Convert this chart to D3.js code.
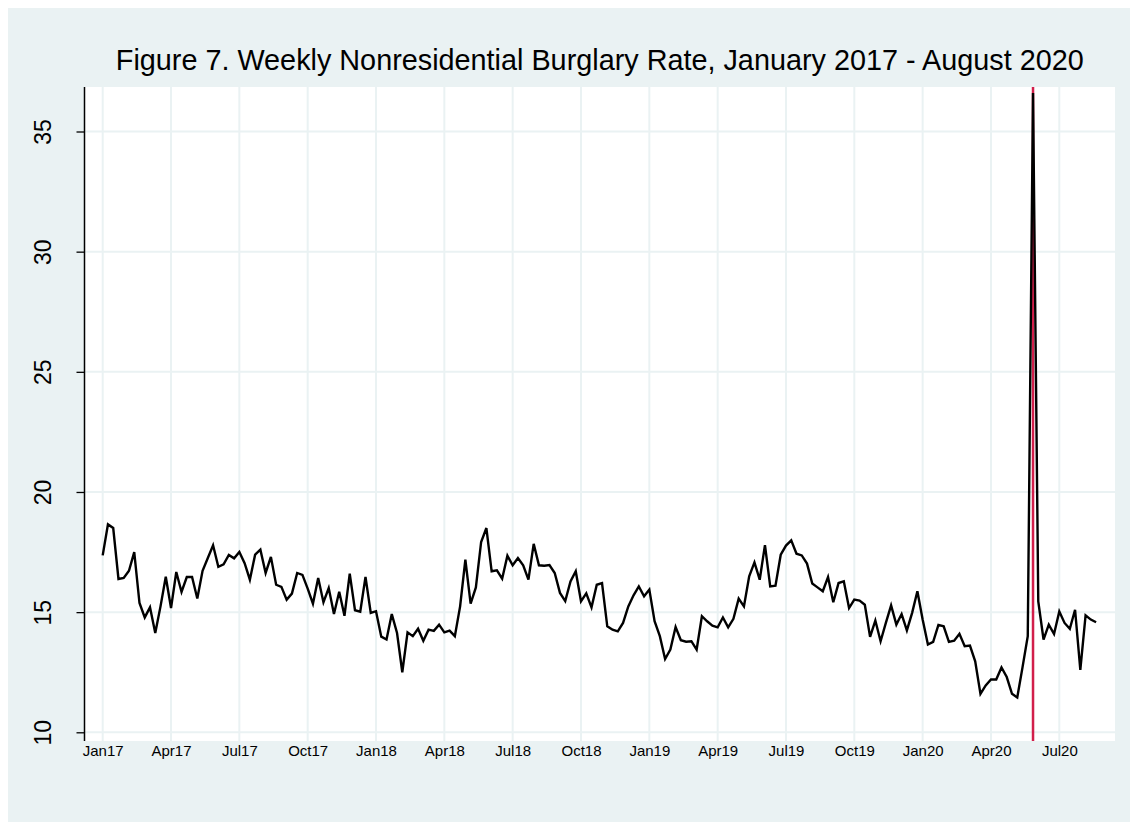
<!DOCTYPE html>
<html>
<head>
<meta charset="utf-8">
<script src="https://cdnjs.cloudflare.com/ajax/libs/d3/7.8.5/d3.min.js"></script>
<style>
  body { margin: 0; background: #ffffff; }
  text { font-family: Helvetica, Arial, "Liberation Sans", sans-serif; fill: #000; }
</style>
</head>
<body>
<div id="chart"></div>
<script>
var title = "Figure 7. Weekly Nonresidential Burglary Rate, January 2017 - August 2020";

// weekly rate, week 0 = 2017w1
var rate = [
  17.36, 18.65, 18.5, 16.38, 16.42, 16.72, 17.5, 15.38, 14.78, 15.2,
  14.13, 15.24, 16.47, 15.17, 16.67, 15.84, 16.46, 16.46, 15.57, 16.72,
  17.25, 17.78, 16.89, 16.99, 17.38, 17.24, 17.5, 17.04, 16.35, 17.39,
  17.6, 16.63, 17.3, 16.14, 16.05, 15.52, 15.77, 16.63, 16.55, 15.98,
  15.35, 16.42, 15.41, 16.0, 14.92, 15.85, 14.85, 16.6, 15.08, 15.02,
  16.47, 14.97, 15.04, 13.98, 13.86, 14.92, 14.13, 12.5, 14.16, 14.0,
  14.31, 13.81, 14.27, 14.22, 14.48, 14.16, 14.23, 14.0, 15.24, 17.18,
  15.35, 16.03, 17.92, 18.5, 16.7, 16.74, 16.39, 17.35, 16.95, 17.25,
  16.95, 16.35, 17.84, 16.95, 16.93, 16.96, 16.63, 15.8, 15.46, 16.28,
  16.7, 15.45, 15.78, 15.2, 16.14, 16.21, 14.41, 14.27, 14.2, 14.55,
  15.24, 15.7, 16.07, 15.66, 15.94, 14.62, 14.0, 13.05, 13.44, 14.38,
  13.83, 13.77, 13.79, 13.44, 14.83, 14.62, 14.44, 14.37, 14.78, 14.37,
  14.72, 15.56, 15.24, 16.49, 17.07, 16.35, 17.79, 16.07, 16.1, 17.39,
  17.77, 17.99, 17.43, 17.36, 17.02, 16.19, 16.03, 15.87, 16.46, 15.41,
  16.21, 16.28, 15.17, 15.52, 15.48, 15.31, 13.97, 14.65, 13.79, 14.55,
  15.28, 14.48, 14.92, 14.24, 14.97, 15.87, 14.69, 13.65, 13.76, 14.47,
  14.41, 13.76, 13.81, 14.1, 13.58, 13.61, 12.95, 11.6, 11.95, 12.2,
  12.2, 12.7, 12.3, 11.6, 11.45, 12.7, 14.0, 36.6, 15.45, 13.86,
  14.48, 14.09, 15.03, 14.55, 14.31, 15.1, 12.6, 14.87, 14.69, 14.58
];

var xTickWeeks = [0, 13, 26, 39, 52, 65, 78, 91, 104, 117, 130, 143, 156, 169, 182];
var xTickLabels = ["Jan17", "Apr17", "Jul17", "Oct17", "Jan18", "Apr18", "Jul18", "Oct18",
                   "Jan19", "Apr19", "Jul19", "Oct19", "Jan20", "Apr20", "Jul20"];
var yTicks = [10, 15, 20, 25, 30, 35];
var eventWeek = 177; // 2020w22

var width = 1138, height = 830;
var plot = {left: 84.5, right: 1115, top: 87, bottom: 741};

var svg = d3.select("#chart").append("svg")
    .attr("width", width)
    .attr("height", height);

// outer graph region
svg.append("rect")
    .attr("x", 8).attr("y", 8)
    .attr("width", width - 16).attr("height", height - 16)
    .attr("fill", "#eaf2f3");

svg.append("rect")
    .attr("x", plot.left).attr("y", plot.top)
    .attr("width", plot.right - plot.left).attr("height", plot.bottom - plot.top)
    .attr("fill", "#ffffff");

var x = d3.scaleLinear().domain([0, 182]).range([102.7, 1059.3]);
var y = d3.scaleLinear().domain([10, 35]).range([732.3, 131.5]);

// grid lines
svg.append("g")
  .selectAll("line")
  .data(yTicks)
  .enter()
  .append("line")
    .attr("x1", plot.left).attr("x2", plot.right)
    .attr("y1", function(d) { return y(d); })
    .attr("y2", function(d) { return y(d); })
    .attr("stroke", "#eaf2f3")
    .attr("stroke-width", 2);

svg.append("g")
  .selectAll("line")
  .data(xTickWeeks)
  .enter()
  .append("line")
    .attr("x1", function(d) { return x(d); })
    .attr("x2", function(d) { return x(d); })
    .attr("y1", plot.top).attr("y2", plot.bottom)
    .attr("stroke", "#eaf2f3")
    .attr("stroke-width", 2);

// y axis
var yAxis = d3.axisLeft(y)
    .tickValues(yTicks)
    .tickSize(8)
    .tickPadding(0)
    .tickFormat(d3.format("d"));

var yg = svg.append("g")
    .attr("transform", "translate(" + plot.left + ",0)")
    .call(yAxis);
yg.select(".domain").remove();
yg.selectAll(".tick line").attr("stroke", "#000").attr("stroke-width", 1.3);
yg.selectAll(".tick text")
    .attr("x", 0).attr("y", 0)
    .attr("dy", null)
    .attr("transform", "translate(-42,0) rotate(-90)")
    .attr("text-anchor", "middle")
    .attr("dominant-baseline", "central")
    .style("font-size", "23px");
svg.append("line")
    .attr("x1", plot.left).attr("x2", plot.left)
    .attr("y1", plot.top).attr("y2", plot.bottom)
    .attr("stroke", "#000").attr("stroke-width", 1.5);

// x axis labels
var xAxis = d3.axisBottom(x)
    .tickValues(xTickWeeks)
    .tickSize(0)
    .tickPadding(4)
    .tickFormat(function(d, i) { return xTickLabels[i]; });

var xg = svg.append("g")
    .attr("transform", "translate(0," + plot.bottom + ")")
    .call(xAxis);
xg.select(".domain").remove();
xg.selectAll(".tick text").style("font-size", "15px");

// event line
svg.append("line")
    .attr("x1", x(eventWeek)).attr("x2", x(eventWeek))
    .attr("y1", plot.top).attr("y2", plot.bottom)
    .attr("stroke", "#d21f4b")
    .attr("stroke-width", 2.5);

// series
var line = d3.line()
    .x(function(d, i) { return x(i); })
    .y(function(d) { return y(d); });

svg.append("path")
    .datum(rate)
    .attr("d", line)
    .attr("fill", "none")
    .attr("stroke", "#000")
    .attr("stroke-width", 2.4)
    .attr("stroke-linejoin", "miter");

svg.append("text")
    .attr("x", (plot.left + plot.right) / 2)
    .attr("y", 70)
    .attr("text-anchor", "middle")
    .style("font-size", "28.8px")
    .text(title);
</script>
</body>
</html>
